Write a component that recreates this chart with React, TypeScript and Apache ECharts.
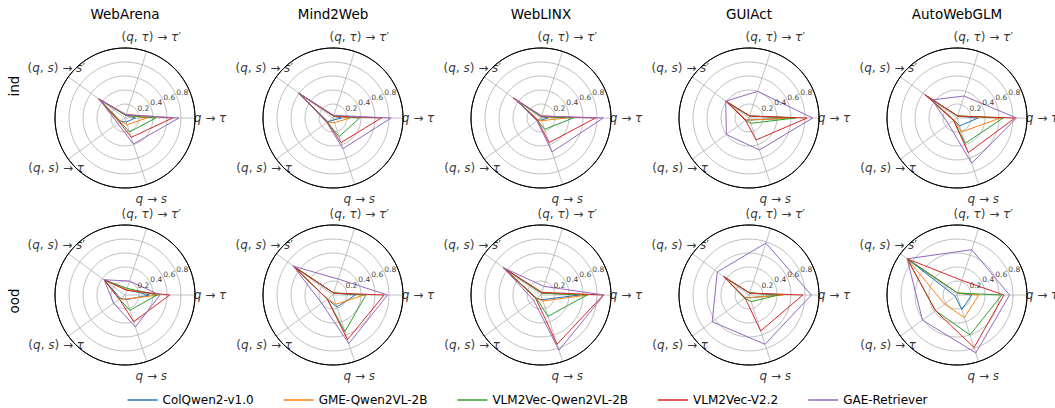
import React, { useEffect, useRef } from 'react';
import * as echarts from 'echarts';

// ---------------- data ----------------
const DATASETS = ['WebArena', 'Mind2Web', 'WebLINX', 'GUIAct', 'AutoWebGLM'];
const SPLITS = ['ind', 'ood'];
const MODELS = ['ColQwen2-v1.0', 'GME-Qwen2VL-2B', 'VLM2Vec-Qwen2VL-2B', 'VLM2Vec-V2.2', 'GAE-Retriever'];
const COLORS = ['#1f77b4', '#ff7f0e', '#2ca02c', '#d62728', '#9467bd'];
const AXIS_NAMES = ['q → τ', '(q, τ) → τ′', '(q, s) → s′', '(q, s) → τ', 'q → s'];
const AXIS_ANGLES = [0, 72, 144, 216, 288];
const R_TICKS = [0.2, 0.4, 0.6, 0.8];

// rows = models, columns = axes (q→τ, (q,τ)→τ′, (q,s)→s′, (q,s)→τ, q→s)
const WEBARENA_IND = [
  [0.15, 0.04, 0.44, 0.08, 0.06],
  [0.31, 0.04, 0.45, 0.08, 0.10],
  [0.44, 0.04, 0.46, 0.09, 0.21],
  [0.68, 0.05, 0.47, 0.10, 0.29],
  [0.77, 0.05, 0.45, 0.13, 0.39],
];
const MIND2WEB_IND = [
  [0.12, 0.03, 0.60, 0.09, 0.03],
  [0.24, 0.03, 0.60, 0.10, 0.07],
  [0.38, 0.03, 0.61, 0.10, 0.28],
  [0.69, 0.03, 0.60, 0.10, 0.37],
  [0.83, 0.04, 0.59, 0.11, 0.46],
];
const WEBLINX_IND = [
  [0.10, 0.02, 0.44, 0.05, 0.03],
  [0.35, 0.02, 0.45, 0.05, 0.04],
  [0.46, 0.02, 0.45, 0.06, 0.17],
  [0.78, 0.03, 0.49, 0.06, 0.37],
  [0.89, 0.03, 0.45, 0.07, 0.51],
];
const GUIACT_IND = [
  [0.66, 0.03, 0.38, 0.05, 0.03],
  [0.66, 0.03, 0.39, 0.05, 0.03],
  [0.66, 0.03, 0.40, 0.06, 0.08],
  [0.83, 0.03, 0.41, 0.06, 0.33],
  [0.91, 0.40, 0.41, 0.40, 0.48],
];
const AUTOWEBGLM_IND = [
  [0.30, 0.03, 0.50, 0.05, 0.12],
  [0.62, 0.03, 0.52, 0.05, 0.21],
  [0.66, 0.03, 0.53, 0.06, 0.38],
  [0.83, 0.03, 0.57, 0.06, 0.52],
  [0.85, 0.33, 0.44, 0.15, 0.68],
];
const WEBARENA_OOD = [
  [0.35, 0.08, 0.37, 0.08, 0.07],
  [0.48, 0.08, 0.37, 0.10, 0.06],
  [0.46, 0.10, 0.37, 0.10, 0.23],
  [0.64, 0.07, 0.37, 0.10, 0.40],
  [0.50, 0.21, 0.37, 0.20, 0.48],
];
const MIND2WEB_OOD = [
  [0.32, 0.03, 0.70, 0.10, 0.18],
  [0.44, 0.03, 0.70, 0.10, 0.14],
  [0.47, 0.03, 0.70, 0.10, 0.55],
  [0.73, 0.03, 0.70, 0.10, 0.67],
  [0.78, 0.24, 0.70, 0.20, 0.73],
];
const WEBLINX_OOD = [
  [0.55, 0.03, 0.66, 0.08, 0.07],
  [0.67, 0.03, 0.66, 0.08, 0.09],
  [0.66, 0.03, 0.66, 0.08, 0.32],
  [0.89, 0.04, 0.66, 0.09, 0.74],
  [0.90, 0.13, 0.66, 0.13, 0.83],
];
const GUIACT_OOD = [
  [0.45, 0.03, 0.44, 0.07, 0.04],
  [0.49, 0.03, 0.44, 0.07, 0.04],
  [0.42, 0.03, 0.44, 0.08, 0.10],
  [0.77, 0.03, 0.45, 0.07, 0.54],
  [0.89, 0.78, 0.56, 0.65, 0.74],
];
const AUTOWEBGLM_OOD = [
  [0.21, 0.03, 0.88, 0.03, 0.22],
  [0.31, 0.03, 0.88, 0.22, 0.34],
  [0.64, 0.03, 0.88, 0.38, 0.60],
  [0.67, 0.22, 0.88, 0.38, 0.79],
  [0.75, 0.68, 0.88, 0.61, 0.87],
];

const PANELS = [
  [WEBARENA_IND, MIND2WEB_IND, WEBLINX_IND, GUIACT_IND, AUTOWEBGLM_IND],
  [WEBARENA_OOD, MIND2WEB_OOD, WEBLINX_OOD, GUIACT_OOD, AUTOWEBGLM_OOD],
];

// ---------------- layout ----------------
const COL_X = [125, 333, 541, 749, 957];
const ROW_Y = [118, 295];
const RADIUS = 70;
const NAME_R = 85 / 70;
const RLABEL_ANGLE = 22.5;
const ROW_LABEL_Y = [86, 301];
const FONT = '"DejaVu Sans", sans-serif';
const GRID_GRAY = '#b0b0b0';
const INVISIBLE = 'rgba(0,0,0,0)';

function toRich(name: string): string {
  let out = '';
  for (const ch of name) {
    if (ch === 'q' || ch === 's' || ch === 'τ') out += `{i|${ch}}`;
    else out += `{n|${ch}}`;
  }
  return out;
}

function buildOption() {
  const polar: any[] = [];
  const angleAxis: any[] = [];
  const radiusAxis: any[] = [];
  const series: any[] = [];
  let k = 0;
  PANELS.forEach((row, r) => {
    row.forEach((vals, c) => {
      polar.push({ center: [COL_X[c], ROW_Y[r]], radius: RADIUS });
      angleAxis.push({
        polarIndex: k,
        type: 'value',
        min: 0,
        max: 360,
        interval: 72,
        startAngle: 0,
        clockwise: false,
        axisLine: { show: true, lineStyle: { color: '#000', width: 1 } },
        axisTick: { show: false },
        axisLabel: { show: false },
        splitLine: { show: true, lineStyle: { color: GRID_GRAY, width: 0.8 } },
      });
      radiusAxis.push({
        polarIndex: k,
        type: 'value',
        min: 0,
        max: 1,
        interval: 0.2,
        axisLine: { show: false },
        axisTick: { show: false },
        axisLabel: { show: false },
        splitLine: {
          show: true,
          lineStyle: { color: [GRID_GRAY, GRID_GRAY, GRID_GRAY, GRID_GRAY, GRID_GRAY, '#000'], width: 0.8 },
        },
      });
      MODELS.forEach((m, mi) => {
        const pts = vals[mi].map((v, i) => [v, AXIS_ANGLES[i]]);
        pts.push([vals[mi][0], 360]);
        series.push({
          type: 'line',
          name: m,
          coordinateSystem: 'polar',
          polarIndex: k,
          data: pts,
          symbol: 'none',
          smooth: false,
          silent: true,
          color: COLORS[mi],
          itemStyle: { color: COLORS[mi] },
          lineStyle: { color: COLORS[mi], width: 1 },
          z: 3,
        });
      });
      // axis names
      series.push({
        type: 'scatter',
        name: '_names' + k,
        coordinateSystem: 'polar',
        polarIndex: k,
        clip: false,
        silent: true,
        symbolSize: 1,
        itemStyle: { color: INVISIBLE },
        data: AXIS_ANGLES.map((a) => [NAME_R, a]),
        label: {
          show: true,
          position: 'inside',
          color: '#000',
          formatter: (p: any) => toRich(AXIS_NAMES[p.dataIndex]),
          rich: {
            i: { fontFamily: FONT, fontStyle: 'italic', fontSize: 12, color: '#000' },
            n: { fontFamily: FONT, fontSize: 12, color: '#000' },
          },
        },
        z: 4,
      });
      // radial tick labels
      series.push({
        type: 'scatter',
        name: '_rticks' + k,
        coordinateSystem: 'polar',
        polarIndex: k,
        clip: false,
        silent: true,
        symbolSize: 1,
        itemStyle: { color: INVISIBLE },
        data: R_TICKS.map((t) => [t, RLABEL_ANGLE]),
        label: {
          show: true,
          position: [0, 0],
          align: 'left',
          verticalAlign: 'bottom',
          color: '#000',
          fontFamily: FONT,
          fontSize: 7.5,
          formatter: (p: any) => R_TICKS[p.dataIndex].toFixed(1),
        },
        z: 4,
      });
      k++;
    });
  });

  return {
    animation: false,
    backgroundColor: '#fff',
    title: DATASETS.map((d, c) => ({
      text: d,
      left: COL_X[c],
      top: 7,
      textAlign: 'center',
      padding: 0,
      textStyle: { fontFamily: FONT, fontSize: 13.5, fontWeight: 'normal', color: '#000' },
    })),
    legend: {
      data: MODELS,
      left: 'center',
      top: 394,
      icon: 'rect',
      itemWidth: 30,
      itemHeight: 1.5,
      itemGap: 30,
      padding: 0,
      textStyle: { fontFamily: FONT, fontSize: 12, color: '#000' },
    },
    graphic: SPLITS.map((s, r) => ({
      type: 'text',
      x: 14,
      y: ROW_LABEL_Y[r],
      rotation: Math.PI / 2,
      style: {
        text: s,
        fontFamily: FONT,
        fontSize: 13.5,
        fill: '#000',
        align: 'center',
        verticalAlign: 'middle',
      },
    })),
    polar,
    angleAxis,
    radiusAxis,
    series,
  };
}

export default function App() {
  const ref = useRef<HTMLDivElement>(null);
  useEffect(() => {
    if (!ref.current) return;
    const chart = echarts.init(ref.current, null, { renderer: 'svg' });
    chart.setOption(buildOption() as any);
    return () => chart.dispose();
  }, []);
  return (
    <div
      ref={ref}
      style={{ position: 'fixed', left: 0, top: 0, width: 1055, height: 408, background: '#fff' }}
    />
  );
}
